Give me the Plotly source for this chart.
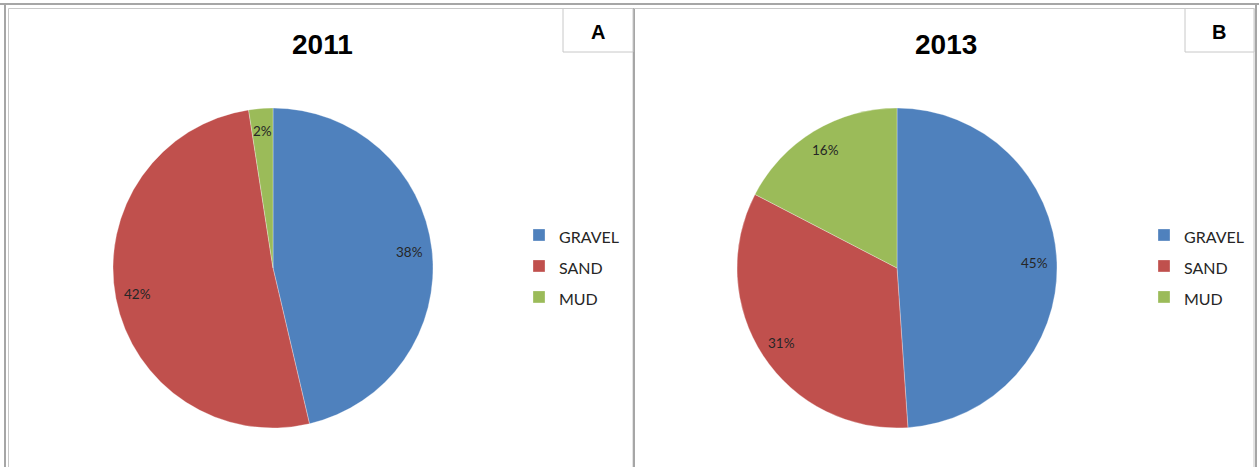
import math
import plotly.graph_objects as go

# Sediment composition by survey year
categories = ["GRAVEL", "SAND", "MUD"]
values_2011 = [38, 42, 2]
values_2013 = [45, 31, 16]
years = ["2011", "2013"]
panel_tags = ["A", "B"]
colors = ["#4F81BD", "#C0504D", "#9BBB59"]

W, H = 1259, 467


def fx(px):
    return px / W


def fy(py):
    return 1 - py / H


# Pie layout: centre and radius in pixels for each panel
pies = [
    dict(values=values_2011, cx=273, cy=268, r=160, legend="legend", leg_x=519,
         style="font-size:16px"),
    dict(values=values_2013, cx=897, cy=268, r=160, legend="legend2", leg_x=1144,
         style="font-size:16px;"),
]

fig = go.Figure()
annotations = []

for p, year in zip(pies, years):
    cx, cy, r = p["cx"], p["cy"], p["r"]
    fig.add_trace(go.Pie(
        labels=[f"<span style='{p['style']}'>{c}</span>" for c in categories],
        values=p["values"],
        sort=False,
        direction="clockwise",
        rotation=0,
        marker=dict(colors=colors, line=dict(color="rgba(255,255,255,0.6)", width=0.5)),
        textinfo="none",
        hoverinfo="value+percent",
        domain=dict(x=[fx(cx - r), fx(cx + r)], y=[fy(cy + r), fy(cy - r)]),
        legend=p["legend"],
        showlegend=True,
    ))
    # value labels placed inside each slice along its mid-angle
    total = sum(p["values"])
    cum = 0
    for v in p["values"]:
        mid = (cum + v / 2) / total * 2 * math.pi
        cum += v
        lx = cx + 0.86 * r * math.sin(mid)
        ly = cy - 0.86 * r * math.cos(mid)
        annotations.append(dict(
            x=fx(lx), y=fy(ly), xref="paper", yref="paper",
            text=f"{v}%", showarrow=False,
            font=dict(family="Lato, Open Sans, sans-serif", size=13.5, color="#262626"),
            xanchor="center", yanchor="middle",
        ))

# Titles and panel tags
for year, tag, tx, bx in zip(years, panel_tags, [322, 946], [598, 1219]):
    annotations.append(dict(
        x=fx(tx), y=fy(44), xref="paper", yref="paper", text=f"<b>{year}</b>",
        showarrow=False, xanchor="center", yanchor="middle",
        font=dict(family="Liberation Sans, Arial, sans-serif", size=28, color="#000000"),
    ))
    annotations.append(dict(
        x=fx(bx), y=fy(32), xref="paper", yref="paper", text=f"<b>{tag}</b>",
        showarrow=False, xanchor="center", yanchor="middle",
        font=dict(family="Liberation Sans, Arial, sans-serif", size=20, color="#000000"),
    ))

gray = "#A6A6A6"
light = "#C8C8C8"
shapes = [
    # outer frame lines
    dict(type="line", x0=0, x1=1, y0=fy(4), y1=fy(4), line=dict(color=gray, width=2)),
    dict(type="line", x0=fx(5), x1=fx(5), y0=0, y1=fy(4), line=dict(color=gray, width=2)),
    dict(type="line", x0=fx(1256), x1=fx(1256), y0=0, y1=fy(4), line=dict(color=gray, width=2)),
    # panel frames
    dict(type="rect", x0=fx(8.5), x1=fx(633), y0=fy(480), y1=fy(8.5),
         line=dict(color=light, width=1), fillcolor="rgba(0,0,0,0)"),
    dict(type="line", x0=fx(634), x1=fx(634), y0=0, y1=fy(8), line=dict(color=gray, width=2)),
    dict(type="line", x0=fx(634), x1=fx(1254), y0=fy(8.5), y1=fy(8.5), line=dict(color=light, width=1)),
    dict(type="line", x0=fx(1254), x1=fx(1254), y0=0, y1=fy(8), line=dict(color=light, width=1)),
    # tag boxes
    dict(type="rect", x0=fx(563), x1=fx(633), y0=fy(52), y1=fy(8.5),
         line=dict(color=light, width=1), fillcolor="white"),
    dict(type="rect", x0=fx(1185), x1=fx(1254), y0=fy(52), y1=fy(8.5),
         line=dict(color=light, width=1), fillcolor="white"),
]

legend_style = dict(
    font=dict(family="Lato, Open Sans, sans-serif", size=21.5, color="#262626"),
    xanchor="left", yanchor="middle", bgcolor="rgba(0,0,0,0)", borderwidth=0,
    itemclick=False, itemdoubleclick=False,
)

fig.update_layout(
    width=W, height=H,
    margin=dict(l=0, r=0, t=0, b=0),
    paper_bgcolor="white",
    plot_bgcolor="white",
    annotations=annotations,
    shapes=shapes,
    legend=dict(x=fx(pies[0]["leg_x"]), y=fy(266), **legend_style),
    legend2=dict(x=fx(pies[1]["leg_x"]), y=fy(266), **legend_style),
)

fig.write_html("out.html")
